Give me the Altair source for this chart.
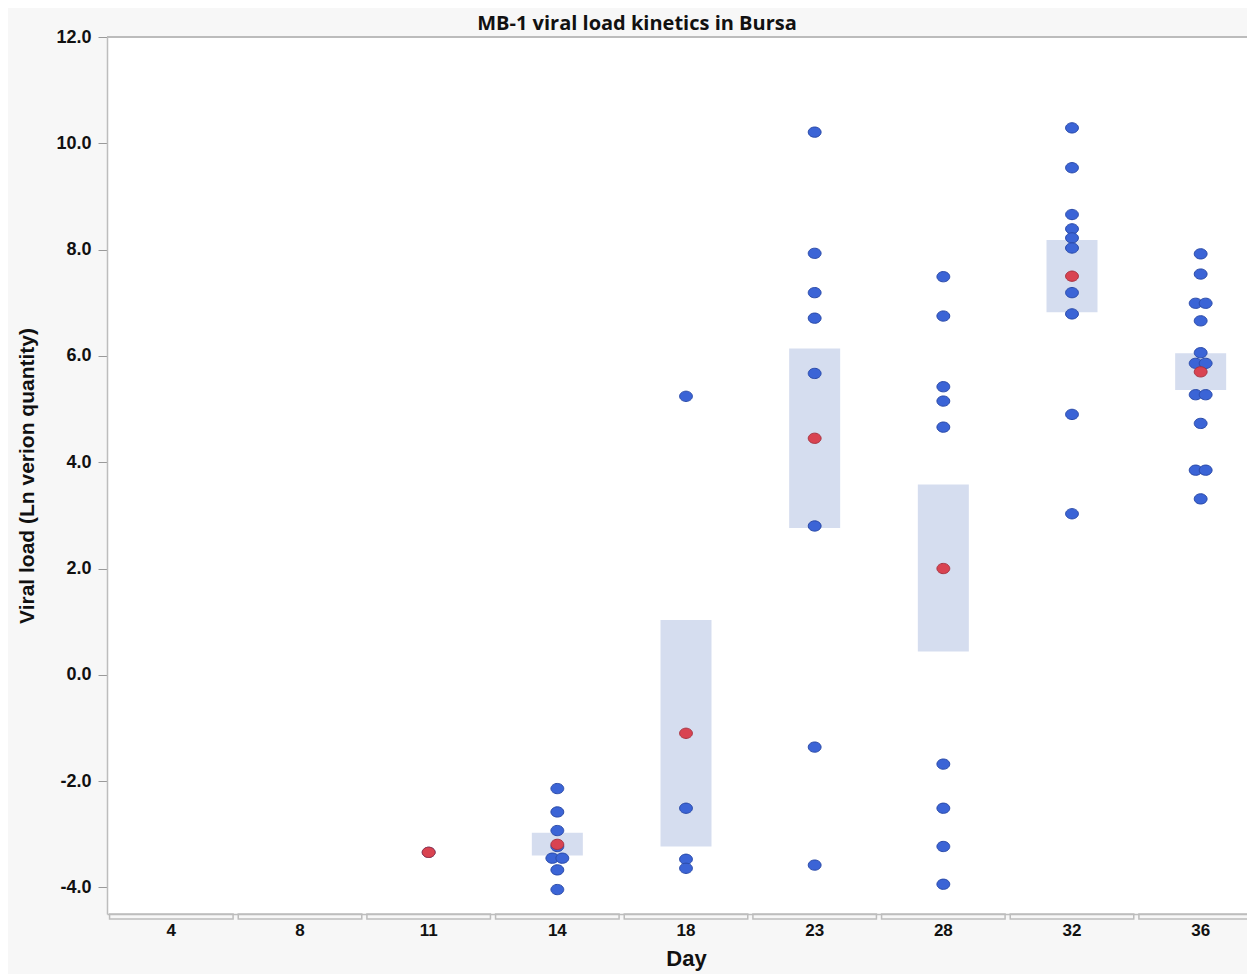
import altair as alt
import pandas as pd

days = ["4", "8", "11", "14", "18", "23", "28", "32", "36"]

obs_day11 = [-3.34]
obs_day14 = [-2.14, -2.58, -2.93, -3.23, -3.45, -3.45, -3.67, -4.04]
obs_day18 = [5.24, -2.51, -3.47, -3.64]
obs_day23 = [10.21, 7.93, 7.19, 6.71, 5.67, 2.80, -1.36, -3.58]
obs_day28 = [7.49, 6.75, 5.42, 5.15, 4.66, -1.68, -2.51, -3.23, -3.94]
obs_day32 = [10.29, 9.54, 8.66, 8.39, 8.22, 8.03, 7.19, 6.79, 4.90, 3.03]
obs_day36 = [7.92, 7.54, 6.99, 6.99, 6.66, 6.06, 5.86, 5.86, 5.27, 5.27,
             4.73, 3.85, 3.85, 3.31]

mean_days = ["11", "14", "18", "23", "28", "32", "36"]
mean_values = [-3.34, -3.19, -1.10, 4.45, 2.00, 7.50, 5.70]

box_days = ["14", "18", "23", "28", "32", "36"]
box_low = [-3.40, -3.23, 2.76, 0.44, 6.82, 5.36]
box_high = [-2.97, 1.03, 6.14, 3.58, 8.18, 6.05]

obs = {"11": obs_day11, "14": obs_day14, "18": obs_day18, "23": obs_day23,
       "28": obs_day28, "32": obs_day32, "36": obs_day36}
points_df = pd.DataFrame([{"Day": d, "load": v} for d, vals in obs.items() for v in vals])
means_df = pd.DataFrame({"Day": mean_days, "load": mean_values})
box_df = pd.DataFrame({"Day": box_days, "lo": box_low, "hi": box_high})
days_df = pd.DataFrame({"Day": days})

W, H = 1140, 877
GRID = "#bdbdbd"

x_scale = alt.Scale(domain=days, range=[0, 1158], paddingInner=0.04, paddingOuter=0.02)
y_scale = alt.Scale(domain=[-4.5, 12], nice=False, zero=False)

x_axis = alt.Axis(title="Day", labelAngle=0, domain=True, domainColor=GRID, domainWidth=1.5,
                  ticks=False, labelPadding=8, titlePadding=10,
                  labelFont="Liberation Sans", labelFontSize=17, labelFontWeight="bold",
                  labelColor="#111111",
                  titleFont="Liberation Sans", titleFontSize=22, titleFontWeight="bold",
                  titleColor="#111111")
y_axis = alt.Axis(title="Viral load (Ln verion quantity)", values=list(range(-4, 13, 2)),
                  labelExpr="(datum.value < 0 ? '-' : '') + format(abs(datum.value), '.1f')",
                  domain=True, domainColor=GRID, domainWidth=1.5,
                  ticks=True, tickSize=9, tickColor="#9a9a9a",
                  grid=False, labelPadding=7, titlePadding=18,
                  labelFont="Liberation Sans", labelFontSize=18, labelFontWeight="bold",
                  labelColor="#111111",
                  titleFont="Liberation Sans", titleFontSize=21, titleFontWeight="bold",
                  titleColor="#111111")

X = alt.X("Day:N", scale=x_scale, axis=x_axis, sort=days)
Y = alt.Y("load:Q", scale=y_scale, axis=y_axis)

boxes = alt.Chart(box_df).mark_bar(color="#d5ddef", width=51).encode(
    x=X, y=alt.Y("lo:Q", scale=y_scale, axis=y_axis), y2="hi:Q"
)

brackets = alt.Chart(days_df).mark_rect(fillOpacity=0, stroke=GRID, strokeWidth=1.5).encode(
    x=X, y=alt.value(H), y2=alt.value(H + 5)
)

top_line = alt.Chart(days_df).mark_rule(color=GRID, strokeWidth=1.5).encode(
    x=alt.value(0), x2=alt.value(W + 20), y=alt.value(0)
)

ellipse = "M -1,0 A 1,0.8 0 1,1 1,0 A 1,0.8 0 1,1 -1,0 Z"
BLUE = dict(shape=ellipse, filled=True, size=165, fill="#3b64d6", stroke="#2a4aa8",
            strokeWidth=1, opacity=1)

ranked = alt.Chart(points_df).transform_window(
    rank="row_number()", groupby=["Day", "load"]
).transform_joinaggregate(
    n="count()", groupby=["Day", "load"]
)

blue_single = ranked.transform_filter("datum.n == 1").mark_point(**BLUE).encode(x=X, y=Y)
blue_left = ranked.transform_filter("datum.n == 2 && datum.rank == 1").mark_point(xOffset=-5, **BLUE).encode(x=X, y=Y)
blue_right = ranked.transform_filter("datum.n == 2 && datum.rank == 2").mark_point(xOffset=5, **BLUE).encode(x=X, y=Y)

red = alt.Chart(means_df).mark_point(shape=ellipse, filled=True, size=165, fill="#d94351",
                                     stroke="#a8323f", strokeWidth=1, opacity=1).encode(
    x=X, y=Y
)

chart = alt.layer(boxes, brackets, top_line, blue_single, blue_left, blue_right, red).properties(
    width=W, height=H,
    title=alt.TitleParams("MB-1 viral load kinetics in Bursa", font="Open Sans",
                          fontSize=20, fontWeight="bold", color="#111111",
                          anchor="middle", frame="group", dx=-40, offset=-6),
    background="#f7f7f7",
    autosize=alt.AutoSizeParams(type="none"),
    padding={"left": 99, "top": 29, "right": 0, "bottom": 60},
).configure_view(fill="white", strokeWidth=0)

chart.save("out.html", embed_options={"renderer": "svg", "actions": False})
